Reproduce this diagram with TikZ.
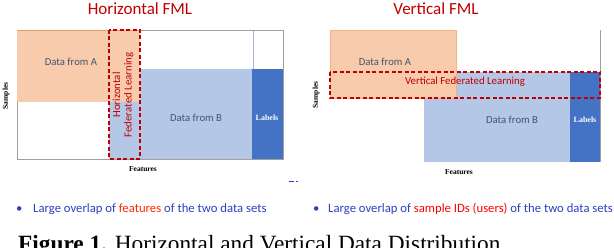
\documentclass[tikz,border=0pt]{standalone}
\usepackage{fontspec}
\setmainfont{Liberation Serif}
\newfontfamily\carlfont{Carlito}
\definecolor{orA}{HTML}{F8CBAD}
\definecolor{orEdge}{HTML}{F4B183}
\definecolor{ltB}{HTML}{B4C7E7}
\definecolor{dkB}{HTML}{4472C4}
\definecolor{fmlred}{HTML}{C00000}
\definecolor{txtblue}{HTML}{44546A}
\definecolor{bulblue}{HTML}{2E3FC0}
\definecolor{hot}{HTML}{FF2A00}
\definecolor{frame}{HTML}{A0A0A0}
\tikzset{
  title/.style={font=\carlfont\fontsize{17}{17}\selectfont, text=fmlred, inner sep=0pt},
  dtext/.style={font=\carlfont\fontsize{10.7}{11}\selectfont, text=txtblue, inner sep=0pt},
  fedtext/.style={font=\carlfont\fontsize{10.8}{11.5}\selectfont, text=fmlred, inner sep=0pt, align=center},
  axlab/.style={font=\bfseries\fontsize{7.5}{7.5}\selectfont, inner sep=0pt},
  lablab/.style={font=\bfseries\fontsize{8}{8}\selectfont, text=white, inner sep=0pt},
  fedbox/.style={draw=fmlred, line width=1.3pt, dash pattern=on 4pt off 2.5pt},
  bullet/.style={font=\carlfont\fontsize{12.7}{12.7}\selectfont, text=bulblue, inner sep=0pt, anchor=base west},
}
\begin{document}
\begin{tikzpicture}[x=1pt,y=-1pt]
\useasboundingbox (0,0) rectangle (614,248);
% ---------- left panel ----------
\node[title] (t1) at (140,9) {Horizontal FML};
\fill[ltB] (109,69) rectangle (252,159);
\fill[dkB] (252,69) rectangle (283,159);
\draw[ltB!70!gray, line width=0.5pt] (253,30) -- (253,69);
\draw[frame, line width=0.7pt] (17,30) -- (283,30) -- (283,159) -- (17,159) -- cycle;
\fill[orA] (17,30) rectangle (140,102);
\draw[orEdge!60!brown, line width=0.6pt] (17,30) -- (140,30);
\draw[fedbox] (109,30) rectangle (140,159);
\node[dtext] (a1) at (71,62) {Data from A};
\node[dtext] (b1) at (196,118) {Data from B};
\node[lablab] (l1) at (267,118) {Labels};
\node[fedtext, rotate=90] (f1) at (123,95) {Horizontal\\Federated Learning};
\node[axlab, rotate=90] (s1) at (6,96) {Samples};
\node[axlab] (x1) at (143,169) {Features};
\draw[bulblue, line width=0.8pt] (289,181) -- (294,181) (295.5,181) -- (298,181);
\node[bullet] (u1) at (16,213) {\textbullet};
\node[bullet] (p1) at (33,213) {Large overlap of \textcolor{hot}{features} of the two data sets};
% ---------- right panel ----------
\node[title] (t2) at (436,9) {Vertical FML};
\fill[ltB] (424,72) rectangle (570,162);
\fill[dkB] (570,72) rectangle (600,162);
\draw[frame, line width=0.7pt] (600,30) -- (600,162);
\draw[orEdge, fill=orA, line width=0.6pt] (330,30) rectangle (456,98);
\draw[fedbox] (330,72) rectangle (600,98);
\node[dtext] (a2) at (385,62) {Data from A};
\node[dtext] (b2) at (512,120) {Data from B};
\node[lablab] (l2) at (585,120) {Labels};
\node[fedtext] (f2) at (465,82) {Vertical Federated Learning};
\node[axlab, rotate=90] (s2) at (316,95) {Samples};
\node[axlab] (x2) at (459,172) {Features};
\node[bullet] (u2) at (313,213) {\textbullet};
\node[bullet] (p2) at (328,213) {Large overlap of \textcolor{red}{sample IDs (users)} of the two data sets};
% ---------- caption ----------
\node[anchor=base west, inner sep=0pt, font=\fontsize{23.3}{23.3}\selectfont] (cap) at (18,252) {\textbf{Figure 1.} Horizontal and Vertical Data Distribution};
\end{tikzpicture}
\end{document}
